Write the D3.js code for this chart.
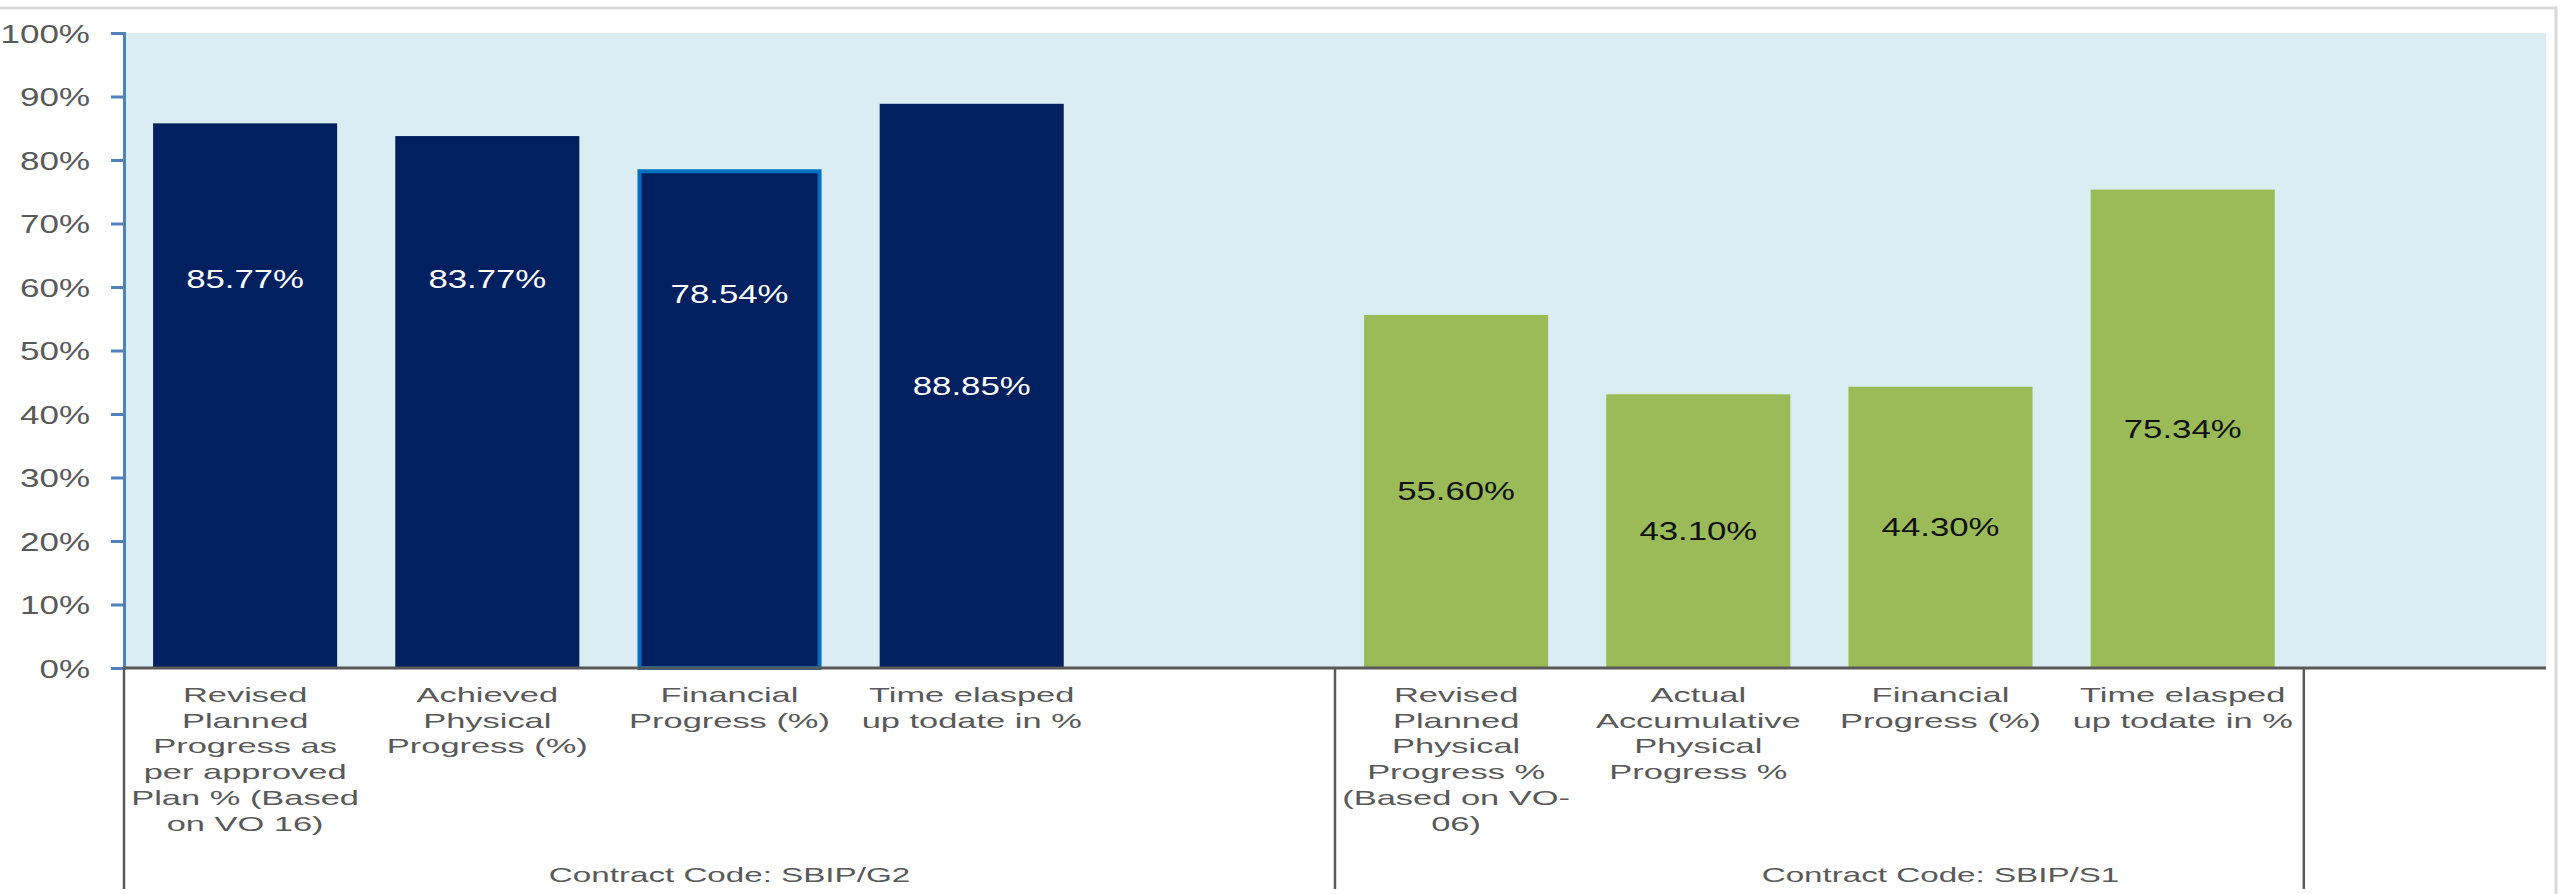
<!DOCTYPE html>
<html>
<head>
<meta charset="utf-8">
<script src="https://cdn.jsdelivr.net/npm/d3@7"></script>
<style>
  body { margin: 0; background: #ffffff; }
  text { font-family: "Liberation Sans", Arial, sans-serif; }
</style>
</head>
<body>
<svg id="chart" width="2560" height="894"></svg>
<script>
// slots along the x axis (two contract groups, each followed by an empty slot)
var slots = ["g2a", "g2b", "g2c", "g2d", "g2gap", "s1a", "s1b", "s1c", "s1d", "s1gap"];

var barSlots = ["g2a", "g2b", "g2c", "g2d", "s1a", "s1b", "s1c", "s1d"];
var barValues = [85.77, 83.77, 78.54, 88.85, 55.60, 43.10, 44.30, 75.34];
var barGroup = ["G2", "G2", "G2", "G2", "S1", "S1", "S1", "S1"];
// where each value label sits, in % units (first three were moved by hand)
var labelAnchor = [61.3, 61.3, 58.9, 44.4, 27.8, 21.6, 22.2, 37.7];

var catLines = [
    ["Revised", "Planned", "Progress as", "per approved", "Plan % (Based", "on VO 16)"],
    ["Achieved", "Physical", "Progress (%)"],
    ["Financial", "Progress (%)"],
    ["Time elasped", "up todate in %"],
    ["Revised", "Planned", "Physical", "Progress %", "(Based on VO-", "06)"],
    ["Actual", "Accumulative", "Physical", "Progress %"],
    ["Financial", "Progress (%)"],
    ["Time elasped", "up todate in %"]
];

var groupNames = ["Contract Code:  SBIP/G2", "Contract Code:  SBIP/S1", ""];
var groupStart = ["g2a", "s1a", "s1gap"];
var groupEnd = ["g2gap", "s1gap", "s1gap"];

var yTicks = [0, 10, 20, 30, 40, 50, 60, 70, 80, 90, 100];

var NAVY = "#002060",
    GREEN = "#9bbb59",
    PLOT_BG = "#daedf3",
    GREY_TEXT = "#595959";

var plot = { left: 124, right: 2546, top: 33, bottom: 668 };

var svg = d3.select("#chart");

// outer chart frame
svg.append("rect")
    .attr("x", -10).attr("y", 8)
    .attr("width", 2566).attr("height", 900)
    .attr("fill", "#ffffff")
    .attr("stroke", "#d9d9d9")
    .attr("stroke-width", 3);

svg.append("rect")
    .attr("x", plot.left).attr("y", plot.top)
    .attr("width", plot.right - plot.left)
    .attr("height", plot.bottom - plot.top)
    .attr("fill", PLOT_BG);

var x = d3.scaleBand()
    .domain(slots)
    .range([plot.left, plot.right])
    .paddingInner(0.24)
    .paddingOuter(0.12);

var step = x.step();

var y = d3.scaleLinear()
    .domain([0, 100])
    .range([plot.bottom, plot.top]);

var bars = barValues.map(function(v, i) {
    return { slot: barSlots[i], value: v, group: barGroup[i], anchor: labelAnchor[i], lines: catLines[i], idx: i };
});

svg.append("g").selectAll("rect")
    .data(bars)
    .enter().append("rect")
    .attr("x", function(d) { return x(d.slot) + (d.idx == 2 ? 2 : 0); })
    .attr("y", function(d) { return y(d.value) + (d.idx == 2 ? 2 : 0); })
    .attr("width", function(d) { return x.bandwidth() - (d.idx == 2 ? 4 : 0); })
    .attr("height", function(d) { return y(0) - y(d.value) - (d.idx == 2 ? 2 : 0); })
    .attr("fill", function(d) { return d.group == "G2" ? NAVY : GREEN; })
    .attr("stroke", function(d) { return d.idx == 2 ? "#0070c0" : "none"; })
    .attr("stroke-width", 4);

// value labels
svg.append("g").selectAll("text")
    .data(bars)
    .enter().append("text")
    .attr("transform", function(d) {
        return "translate(" + (x(d.slot) + x.bandwidth() / 2) + "," + (y(d.anchor) + 9) + ") scale(1.39,1)";
    })
    .attr("text-anchor", "middle")
    .attr("font-size", 25)
    .attr("fill", function(d) { return d.group == "G2" ? "#ffffff" : "#111111"; })
    .text(function(d) { return d.value.toFixed(2) + "%"; });

// y axis
var yAxis = svg.append("g")
    .attr("transform", "translate(" + plot.left + ",0)")
    .call(d3.axisLeft(y).tickValues(yTicks).tickSize(13).tickFormat(function(d) { return d + "%"; }));

yAxis.select(".domain").attr("stroke", "#4f81bd").attr("stroke-width", 3);
yAxis.selectAll(".tick line").attr("stroke", "#4f81bd").attr("stroke-width", 3);
yAxis.selectAll(".tick text")
    .attr("x", 0)
    .attr("dy", null)
    .attr("transform", "translate(-34,9) scale(1.4,1)")
    .attr("text-anchor", "end")
    .attr("font-size", 25)
    .attr("font-family", "Liberation Sans, Arial, sans-serif")
    .attr("fill", GREY_TEXT);

// category axis: base line + group dividers
svg.append("line")
    .attr("x1", plot.left).attr("x2", plot.right)
    .attr("y1", plot.bottom).attr("y2", plot.bottom)
    .attr("stroke", "#595959").attr("stroke-width", 3);

var dividers = [x("g2a") - step * 0.12, x("s1a") - step * 0.12, x("s1gap") - step * 0.12];
svg.append("g").selectAll("line")
    .data(dividers)
    .enter().append("line")
    .attr("x1", function(d) { return d; }).attr("x2", function(d) { return d; })
    .attr("y1", plot.bottom).attr("y2", 889)
    .attr("stroke", "#595959").attr("stroke-width", 2.5);

// wrapped category labels, one group per bar
var catG = svg.append("g").selectAll("g")
    .data(bars)
    .enter().append("g");

catG.selectAll("text")
    .data(function(d) {
        return d.lines.map(function(l, k) { return { text: l, k: k, cx: x(d.slot) + x.bandwidth() / 2 }; });
    })
    .enter().append("text")
    .attr("transform", function(t) { return "translate(" + t.cx + "," + (702 + t.k * 25.7) + ") scale(1.64,1)"; })
    .attr("text-anchor", "middle")
    .attr("font-size", 21)
    .attr("fill", GREY_TEXT)
    .text(function(t) { return t.text; });

svg.append("g").selectAll("text")
    .data(groupNames)
    .enter().append("text")
    .attr("transform", function(d, i) {
        var cx = (x(groupStart[i]) - step * 0.12 + x(groupEnd[i]) + step * 0.88) / 2;
        return "translate(" + cx + ",882) scale(1.58,1)";
    })
    .attr("text-anchor", "middle")
    .attr("font-size", 21)
    .attr("fill", GREY_TEXT)
    .text(function(d) { return d; });
</script>
</body>
</html>
